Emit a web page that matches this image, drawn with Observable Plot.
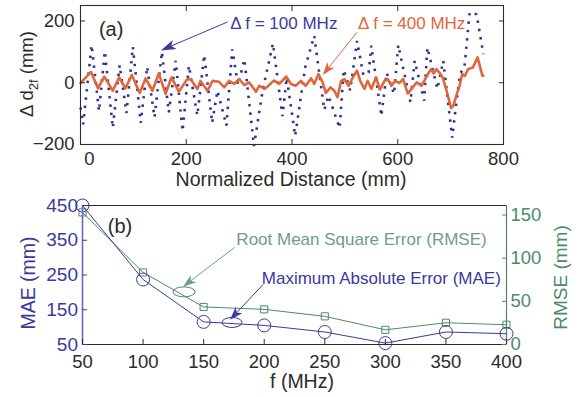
<!DOCTYPE html>
<html><head><meta charset="utf-8">
<script src="https://cdn.jsdelivr.net/npm/d3@7"></script>
<script src="https://cdn.jsdelivr.net/npm/@observablehq/plot@0.6"></script>
<style>
body{margin:0;background:#fff;}
#chart{width:580px;}
#chart svg{display:block;}
</style>
</head><body><div id="chart"></div>
<script>
// ---------- data ----------
// panel (a): deviation vs normalized distance
const dist100 = [0,5,21,35,46,61,74,87,99,114,126,140,154,167,180,193,205,221,234,249,259,276,287,298,310,328,345,364,382,390,406,425,442,461,469,490,498,510,523,535,545,550,569,579,593,601,624,632,650,656,675,686,703,709,718,726,736,749,762];
const dev100  = [-80,-135,122,-92,102,-146,57,-98,116,-130,52,-112,100,-96,71,-157,55,-106,90,-130,-26,-139,108,-8,76,-205,-20,127,-108,17,-172,50,152,-88,-42,-147,42,-25,135,25,33,120,-108,32,-36,122,-63,71,-58,114,-20,71,-178,-90,30,48,228,222,92];
const dist400 = [0,20,33,45,61,73,85,97,112,123,136,148,161,172,186,201,208,221,227,240,250,262,272,281,291,300,310,319,332,338,348,357,366,376,389,398,407,417,426,436,442,450,458,464,473,480,486,493,499,507,515,523,529,537,543,550,559,566,575,581,588,595,603,610,619,626,636,645,657,663,668,673,680,685,693,701,705,711,717,722,727,733,742,751,756,760,762];
const dev400  = [-1,35,-18,20,-26,17,-18,25,-33,14,-26,30,-36,17,-29,10,12,-20,6,-26,6,3,-15,6,-4,12,-8,1,-29,-10,-20,-7,7,-4,20,-4,-10,6,-10,14,-4,28,1,-33,-15,-26,-47,6,12,-10,17,39,6,-20,6,-20,17,-22,6,12,-10,6,-1,12,-35,-20,1,-10,28,44,30,44,30,17,-30,-82,-75,-40,-10,28,22,44,49,82,49,23,23];
const xTicksA = [0,200,400,600,800];
const yTicksA = [-200,0,200];

// panel (b): errors vs frequency step
const freqMHz = [50,100,150,200,250,300,350,400];
const maeMM   = [450,237,115,105,86,54,86,81];
const rmseMM  = [153,83.5,43.5,40.7,32.6,17,25.2,22.9];
const xTicksB = [50,100,150,200,250,300,350,400];
const maeTicks = [50,150,250,350,450];
const rmseTicks = [0,50,100,150];

// annotations (data coordinates)
const panelA = [{x: 58, y: 171, text: "(a)"}];
const labelsA = [
  {x: 283, y: 193, text: "Δ f = 100 MHz", key: "b100"},
  {x: 525, y: 193, text: "Δ f = 400 MHz", key: "o400"}
];
const arrowsA = [
  {x1: 279, y1: 195, x2: 153, y2: 103, key: "b100"},
  {x1: 524, y1: 162, x2: 459, y2: 23, key: "o400"}
];
const panelB = [{x: 81, y: 388, text: "(b)"}];
const labelsB = [
  {x: 177, y: 353, text: "Root Mean Square Error (RMSE)", key: "rmse"},
  {x: 198, y: 239, text: "Maximum Absolute Error (MAE)", key: "mae"}
];
const arrowsB = [
  {x1: 176, y1: 328, x2: 133.4, y2: 215, key: "rmse"},
  {x1: 199.4, y1: 221, x2: 172.2, y2: 120, key: "mae"}
];
const ellipsesB = [
  {x: 134.2, y: 200, key: "rmse"},
  {x: 173.8, y: 112, key: "mae"}
];

// ---------- styles ----------
const font = "'Liberation Sans', Arial, Helvetica, sans-serif";
const ink = "#2b2b2b";
const blueDark = "#2E3192";
const blue = "#3A3A9E";
const orange = "#E2663A";
const green = "#4D8A66";
const greenText = "#6F9C8E";
const colorOf = {b100: "#3A3C9C", o400: orange, rmse: greenText, mae: blue};

const rowsA100 = dist100.map((d, i) => ({d, v: dev100[i]}));
const rowsA400 = dist400.map((d, i) => ({d, v: dev400[i]}));
const rowsB = freqMHz.map((f, i) => ({f, mae: maeMM[i], rmse: rmseMM[i]}));
const rmseToY = d3.scaleLinear([0, 161], [50, 450]);

function arrowRender(arrows, head) {
  return (index, scales) => {
    const g = d3.create("svg:g");
    for (const a of arrows) {
      const c = colorOf[a.key];
      const x1 = scales.x(a.x1), y1 = scales.y(a.y1), x2 = scales.x(a.x2), y2 = scales.y(a.y2);
      const ang = Math.atan2(y2 - y1, x2 - x1);
      const L = head[a.key][0], W = head[a.key][1];
      const cx = Math.cos(ang), sx = Math.sin(ang);
      const bx = x2 - L * cx, by = y2 - L * sx;
      const nx = x2 - 0.75 * L * cx, ny = y2 - 0.75 * L * sx;
      const px = -sx * W / 2, py = cx * W / 2;
      g.append("line").attr("x1", x1).attr("y1", y1).attr("x2", nx).attr("y2", ny)
        .attr("stroke", c).attr("stroke-width", 1);
      g.append("path").attr("d", `M${x2},${y2}L${bx + px},${by + py}L${nx},${ny}L${bx - px},${by - py}Z`)
        .attr("fill", c);
    }
    return g.node();
  };
}
function ellipseRender(items) {
  return (index, scales) => {
    const g = d3.create("svg:g");
    for (const e of items) {
      g.append("ellipse").attr("cx", scales.x(e.x)).attr("cy", scales.y(e.y))
        .attr("rx", e.key === "rmse" ? 11 : 10).attr("ry", 5)
        .attr("fill", "none").attr("stroke", e.key === "rmse" ? green : blue).attr("stroke-width", 1);
    }
    return g.node();
  };
}

// ---------- panel (a) ----------
const plotA = Plot.plot({
  width: 580, height: 200,
  marginLeft: 80, marginRight: 77, marginTop: 5, marginBottom: 56,
  style: {fontFamily: font, fontSize: "18.5px", color: ink, background: "transparent", overflow: "visible"},
  x: {domain: [0, 800]},
  y: {domain: [-200, 250]},
  marks: [
    Plot.line(rowsA100, {x: "d", y: "v", stroke: blueDark, strokeWidth: 2.6, strokeDasharray: "2.4,6", strokeLinecap: "butt", strokeLinejoin: "miter"}),
    Plot.line(rowsA400, {x: "d", y: "v", stroke: orange, strokeWidth: 2.6, strokeLinejoin: "round"}),
    Plot.frame({stroke: ink, strokeWidth: 1.1}),
    Plot.axisY(yTicksA, {anchor: "left", tickSize: -5, tickPadding: 11, label: null}),
    Plot.axisY(yTicksA, {anchor: "right", tickSize: -5, tickFormat: () => "", label: null}),
    Plot.axisX(xTicksA.filter(t => t !== 0), {anchor: "bottom", tickSize: -5, tickPadding: 12, label: null}),
    Plot.axisX(xTicksA.filter(t => t === 0), {anchor: "bottom", tickSize: 0, tickPadding: 7, dx: 9, label: null}),
    Plot.axisX(xTicksA, {anchor: "top", tickSize: -5, tickFormat: () => "", label: null}),
    Plot.text(panelA, {x: "x", y: "y", text: "text", fill: ink, fontSize: 20, textAnchor: "middle"}),
    Plot.text(labelsA, {x: "x", y: "y", text: "text", fill: d => colorOf[d.key], fontSize: 17, textAnchor: "start"}),
    arrowRender(arrowsA, {b100: [15, 10], o400: [13, 9]})
  ]
});

// ---------- panel (b) ----------
const plotB = Plot.plot({
  width: 580, height: 197,
  marginLeft: 82, marginRight: 74, marginTop: 5, marginBottom: 53,
  style: {fontFamily: font, fontSize: "18.5px", color: ink, background: "transparent", overflow: "visible"},
  x: {domain: [50, 400]},
  y: {domain: [50, 450]},
  marks: [
    Plot.ruleY([450], {stroke: ink, strokeWidth: 1.1}),
    Plot.ruleX([400], {stroke: green, strokeWidth: 1.2}),
    Plot.line(rowsB, {x: "f", y: d => rmseToY(d.rmse), stroke: green, strokeWidth: 1}),
    Plot.dot(rowsB, {x: "f", y: d => rmseToY(d.rmse), symbol: "square", r: 4, stroke: green, fill: "none", strokeWidth: 1}),
    Plot.line(rowsB, {x: "f", y: "mae", stroke: blue, strokeWidth: 1}),
    Plot.dot(rowsB, {x: "f", y: "mae", symbol: "circle", r: 6.5, stroke: blue, fill: "none", strokeWidth: 1}),
    Plot.ruleY([50], {stroke: ink, strokeWidth: 1.1}),
    Plot.ruleX([50], {stroke: "#6a6ab8", strokeWidth: 1.6}),
    Plot.axisX(xTicksB, {anchor: "bottom", tickSize: -5, tickPadding: 15, label: null}),
    Plot.axisY(maeTicks, {anchor: "left", tickSize: -5, tickPadding: 9.5, label: null, stroke: blue, fill: blue, fontSize: 19}),
    Plot.axisY(rmseTicks.map(v => rmseToY(v)), {anchor: "right", tickSize: -5, tickPadding: 9,
      tickFormat: v => String(Math.round(rmseToY.invert(v))), label: null, stroke: green, fill: green, fontSize: 18.5}),
    Plot.text(panelB, {x: "x", y: "y", text: "text", fill: ink, fontSize: 20, textAnchor: "middle"}),
    Plot.text(labelsB, {x: "x", y: "y", text: "text", fill: d => colorOf[d.key], fontSize: 17, textAnchor: "start"}),
    ellipseRender(ellipsesB),
    arrowRender(arrowsB, {rmse: [13, 9], mae: [13, 9]})
  ]
});

// ---------- axis titles ----------
function addText(svg, x, y, rot, anchor, size, color) {
  return d3.select(svg).append("text")
    .attr("transform", `translate(${x},${y})` + (rot ? ` rotate(${rot})` : ""))
    .attr("text-anchor", anchor).attr("font-family", font).attr("font-size", size).attr("fill", color);
}
const yl = addText(plotA, 33, 74, -90, "middle", 18.5, ink);
yl.append("tspan").text("Δ d");
yl.append("tspan").attr("font-size", 13).attr("dy", 5).text("2f");
yl.append("tspan").attr("dy", -5).text(" (mm)");
addText(plotA, 291, 186, 0, "middle", 19.5, ink).text("Normalized Distance (mm)");

addText(plotB, 34.5, 83, -90, "middle", 19.5, blue).text("MAE (mm)");
addText(plotB, 567, 77.5, -90, "middle", 19, green).text("RMSE (mm)");
addText(plotB, 302, 188, 0, "middle", 19.5, ink).text("f (MHz)");

document.getElementById("chart").append(plotA, plotB);
</script>
</body></html>
